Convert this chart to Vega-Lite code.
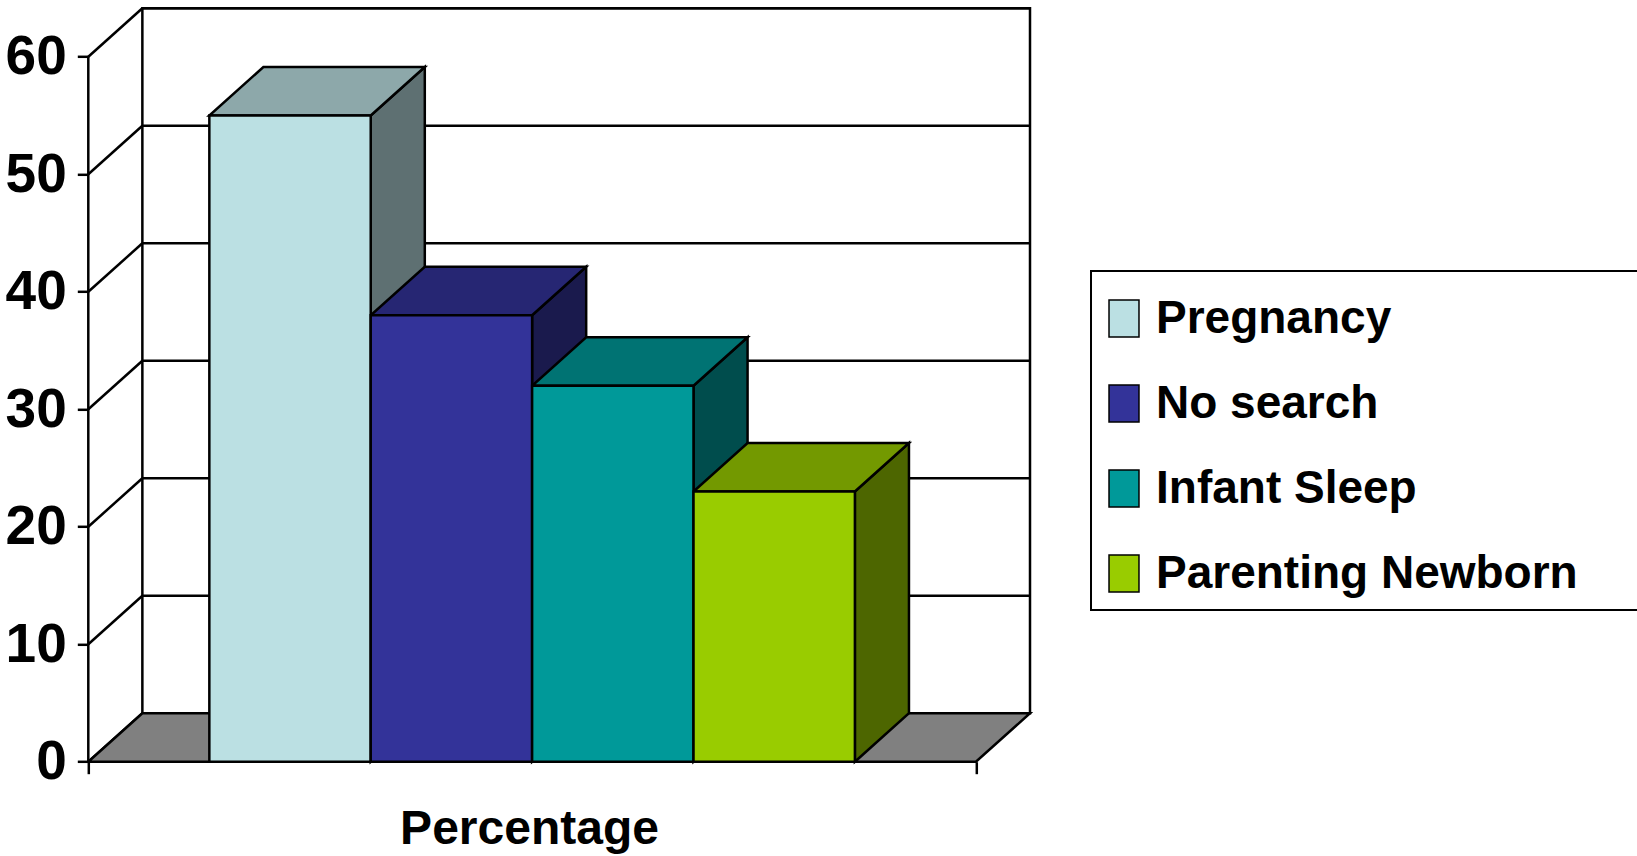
{
  "$schema": "https://vega.github.io/schema/vega-lite/v6.json",
  "width": 941.7,
  "height": 753.4,
  "autosize": {"type": "none"},
  "padding": {"left": 88.3, "top": 8.3, "right": 607, "bottom": 94.3},
  "background": "white",
  "config": {
    "view": {"stroke": null},
    "font": "Liberation Sans, Arial, sans-serif"
  },
  "datasets": {
    "bars": [
      {"category": "Pregnancy", "value": 55},
      {"category": "No search", "value": 38},
      {"category": "Infant Sleep", "value": 32},
      {"category": "Parenting Newborn", "value": 23}
    ],
    "ticks": [
      {"tick": 0}, {"tick": 10}, {"tick": 20}, {"tick": 30}, {"tick": 40}, {"tick": 50}, {"tick": 60}
    ]
  },
  "resolve": {"scale": {"color": "independent"}, "axis": {"x": "independent", "y": "independent"}},
  "layer": [
    {
      "data": {"name": "ticks"},
      "transform": [{"filter": "datum.tick == 0"}],
      "mark": {"type": "rect", "fill": "white", "stroke": "black", "strokeWidth": 2.5},
      "encoding": {
        "x": {"datum": 0.335, "type": "quantitative", "scale": {"domain": [0, 5.835], "nice": false, "zero": false}, "axis": null},
        "x2": {"datum": 5.835},
        "y": {"datum": 4.12, "type": "quantitative", "scale": {"domain": [0, 64.12], "nice": false, "zero": false}, "axis": null},
        "y2": {"datum": 64.12}
      }
    },
    {
      "data": {"name": "ticks"},
      "transform": [{"filter": "datum.tick == 0"}],
      "mark": {"type": "rect", "fill": "white", "stroke": "black", "strokeWidth": 2, "clip": false},
      "encoding": {
        "x": {"datum": 6.213, "type": "quantitative", "axis": null},
        "x2": {"datum": 10},
        "y": {"datum": 12.91, "type": "quantitative", "axis": null},
        "y2": {"datum": 41.76}
      }
    },
    {
      "data": {"name": "ticks"},
      "transform": [{"filter": "datum.tick > 0"}, {"calculate": "datum.tick + 4.12", "as": "yb"}],
      "mark": {"type": "rule", "stroke": "black", "strokeWidth": 2.5},
      "encoding": {
        "x": {"datum": 0.335, "type": "quantitative", "axis": null},
        "x2": {"datum": 5.835},
        "y": {"field": "yb", "type": "quantitative", "axis": null}
      }
    },
    {
      "data": {"name": "ticks"},
      "transform": [{"calculate": "datum.tick + 4.12", "as": "yb"}],
      "mark": {"type": "rule", "stroke": "black", "strokeWidth": 2.5},
      "encoding": {
        "x": {"datum": 0, "type": "quantitative", "axis": null},
        "x2": {"datum": 0.335},
        "y": {"field": "tick", "type": "quantitative", "axis": null},
        "y2": {"field": "yb"}
      }
    },
    {
      "data": {"name": "ticks"},
      "transform": [
        {"filter": "datum.tick == 0"},
        {"calculate": "[0,1,2,3]", "as": "k"},
        {"flatten": ["k"]},
        {"calculate": "(datum.k == 1 || datum.k == 3 ? 0.335 : 0) + (datum.k >= 2 ? 5.5 : 0)", "as": "fx"},
        {"calculate": "datum.k == 3 ? 4.12 : 0", "as": "fy"},
        {"calculate": "datum.k == 0 ? 0 : 4.12", "as": "fy2"}
      ],
      "mark": {"type": "area", "fill": "#808080", "stroke": "black", "strokeWidth": 2.5, "orient": "vertical"},
      "encoding": {
        "x": {"field": "fx", "type": "quantitative", "axis": null},
        "y": {"field": "fy", "type": "quantitative", "axis": null},
        "y2": {"field": "fy2"}
      }
    },
    {
      "data": {"name": "ticks"},
      "transform": [{"filter": "datum.tick == 0"}],
      "mark": {"type": "rule", "stroke": "black", "strokeWidth": 2.5},
      "encoding": {
        "x": {
          "datum": 0, "type": "quantitative",
          "axis": {
            "values": [0, 5.5], "labels": false, "domain": false, "grid": false,
            "ticks": true, "tickSize": 12, "tickWidth": 2.5, "tickColor": "black",
            "title": "Percentage", "titleFontSize": 48, "titleFontWeight": "bold", "titleColor": "black",
            "titleX": 440.7, "titleY": 81.5, "titleBaseline": "alphabetic", "titleAlign": "center"
          }
        },
        "y": {
          "datum": 0, "type": "quantitative",
          "axis": {
            "values": [0, 10, 20, 30, 40, 50, 60], "domain": false, "grid": false,
            "tickSize": 11, "tickWidth": 2.5, "tickColor": "black",
            "labelFontSize": 55, "labelFontWeight": "bold", "labelColor": "black",
            "labelPadding": 11, "title": null
          }
        },
        "y2": {"datum": 60}
      }
    },
    {
      "data": {"name": "bars"},
      "transform": [
        {"window": [{"op": "row_number", "as": "idx"}]},
        {"calculate": "[0,1]", "as": "k"},
        {"flatten": ["k"]},
        {"calculate": "datum.idx + 0.75 + datum.k * 0.335", "as": "sx"},
        {"calculate": "datum.k * 4.12", "as": "sy"},
        {"calculate": "datum.value + datum.k * 4.12", "as": "sy2"}
      ],
      "mark": {"type": "area", "stroke": "black", "strokeWidth": 2.5, "orient": "vertical", "opacity": 1},
      "encoding": {
        "x": {"field": "sx", "type": "quantitative", "axis": null},
        "y": {"field": "sy", "type": "quantitative", "axis": null},
        "y2": {"field": "sy2"},
        "color": {
          "field": "category", "type": "nominal", "legend": null,
          "scale": {"domain": ["Pregnancy", "No search", "Infant Sleep", "Parenting Newborn"], "range": ["#5E7072", "#1A1A4D", "#004D4D", "#4D6600"]}
        }
      }
    },
    {
      "data": {"name": "bars"},
      "transform": [
        {"window": [{"op": "row_number", "as": "idx"}]},
        {"calculate": "[0,1,2,3]", "as": "k"},
        {"flatten": ["k"]},
        {"calculate": "datum.idx - 0.25 + (datum.k == 1 || datum.k == 3 ? 0.335 : 0) + (datum.k >= 2 ? 1 : 0)", "as": "tx"},
        {"calculate": "datum.value + (datum.k == 3 ? 4.12 : 0)", "as": "ty"},
        {"calculate": "datum.value + (datum.k == 0 ? 0 : 4.12)", "as": "ty2"}
      ],
      "mark": {"type": "area", "stroke": "black", "strokeWidth": 2.5, "orient": "vertical", "opacity": 1},
      "encoding": {
        "x": {"field": "tx", "type": "quantitative", "axis": null},
        "y": {"field": "ty", "type": "quantitative", "axis": null},
        "y2": {"field": "ty2"},
        "color": {
          "field": "category", "type": "nominal", "legend": null,
          "scale": {"domain": ["Pregnancy", "No search", "Infant Sleep", "Parenting Newborn"], "range": ["#8DA8AA", "#262673", "#007373", "#739900"]}
        }
      }
    },
    {
      "data": {"name": "bars"},
      "transform": [
        {"window": [{"op": "row_number", "as": "idx"}]},
        {"calculate": "datum.idx - 0.25", "as": "fx0"},
        {"calculate": "datum.idx + 0.75", "as": "fx1"}
      ],
      "mark": {"type": "rect", "stroke": "black", "strokeWidth": 2.5, "opacity": 1},
      "encoding": {
        "x": {"field": "fx0", "type": "quantitative", "axis": null},
        "x2": {"field": "fx1"},
        "y": {"field": "value", "type": "quantitative", "axis": null},
        "y2": {"datum": 0},
        "color": {
          "field": "category", "type": "nominal",
          "scale": {"domain": ["Pregnancy", "No search", "Infant Sleep", "Parenting Newborn"], "range": ["#BBE0E3", "#333399", "#009999", "#99CC00"]},
          "legend": {
            "orient": "none", "legendX": 1002.7, "legendY": 262.7, "direction": "vertical",
            "title": " ", "titleFontSize": 1, "titlePadding": 10,
            "symbolType": "M-0.81,-1L0.81,-1L0.81,1L-0.81,1Z", "symbolSize": 1369, "symbolOffset": -3.5,
            "symbolStrokeColor": "black", "symbolStrokeWidth": 1.5, "symbolOpacity": 1,
            "labelFontSize": 46, "labelFontWeight": "bold", "labelColor": "black", "labelOffset": 9, "labelLimit": 0,
            "rowPadding": 39, "padding": 13.5, "strokeColor": "transparent", "fillColor": "transparent"
          }
        }
      }
    }
  ]
}
